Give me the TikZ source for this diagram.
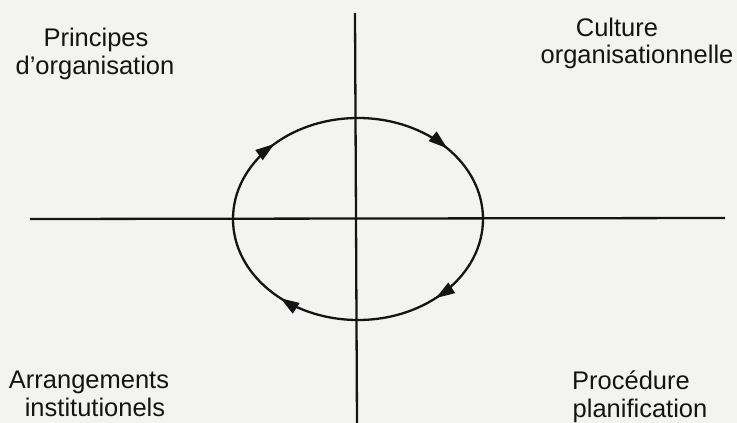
\documentclass[tikz,border=0pt]{standalone}
\usepackage{fontspec}
\setmainfont{Liberation Sans}
\usetikzlibrary{arrows.meta,decorations.markings}
\definecolor{bgcol}{RGB}{243,243,241}
\definecolor{ink}{RGB}{20,20,20}
\tikzset{
  axis/.style={draw=ink,line width=2.3pt},
  cycle/.style={draw=ink,line width=2.3pt,
    decoration={markings,
      mark=at position 0.135 with {\arrow{Triangle[length=19pt,width=12pt]}},
      mark=at position 0.365 with {\arrow{Triangle[length=19pt,width=12pt]}},
      mark=at position 0.625 with {\arrow{Triangle[length=19pt,width=12pt]}},
      mark=at position 0.885 with {\arrow{Triangle[length=19pt,width=12pt]}}},
    postaction={decorate}},
  lbl/.style={anchor=base,text=ink,inner sep=0pt,font=\fontsize{25.5}{30}\selectfont}
}
\begin{document}
\begin{tikzpicture}[x=1pt,y=-1pt]
\fill[bgcol] (0,0) rectangle (737,423);
\useasboundingbox (0,0) rectangle (737,423);
% axes
\coordinate (vtop) at (355,13);
\coordinate (vbot) at (357,423);
\coordinate (hleft) at (30,219);
\coordinate (hright) at (725,218);
\coordinate (c) at (358,219);
\draw[axis] (vtop) -- (vbot);
\draw[axis] (hleft) -- (hright);
% cycle
\draw[cycle] (c) ellipse [x radius=125, y radius=101];
% labels
\node[lbl] (p1) at (96,46) {Principes};
\node[lbl] (p2) at (95,74) {d'organisation};
\node[lbl] (c1) at (617,36) {Culture};
\node[lbl] (c2) at (637,63) {organisationnelle};
\node[lbl] (a1) at (89,388) {Arrangements};
\node[lbl] (a2) at (95,416) {institutionels};
\node[lbl] (r1) at (631,389) {Procédure};
\node[lbl] (r2) at (640,417) {planification};
\end{tikzpicture}
\end{document}
